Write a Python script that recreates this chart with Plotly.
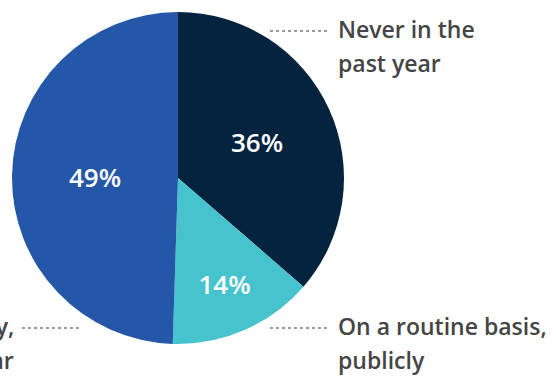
import plotly.graph_objects as go

W, H = 556, 377

categories = ["Never in the past year", "On a routine basis, publicly", "Occasionally, in the past year"]
values = [36, 14, 49]
colors = ["#03233F", "#47C3CD", "#2457A7"]

label_lines = [["Never in the", "past year"],
               ["On a routine basis,", "publicly"],
               ["Occasionally,", "in the past year"]]

def px(x):
    return x / W

def py(y):
    return 1 - y / H

fig = go.Figure(go.Pie(
    labels=categories,
    values=values,
    sort=False,
    direction="clockwise",
    rotation=0,
    marker=dict(colors=colors, line=dict(width=0)),
    texttemplate="%{value}%",
    textposition="inside",
    insidetextorientation="horizontal",
    textfont=dict(family="Open Sans", size=26, color="white", weight=600),
    hoverinfo="label+percent",
    domain=dict(x=[px(12), px(344)], y=[py(344), py(12)]),
    showlegend=False,
))

label_font = dict(family="Open Sans", size=23, color="#454545", weight=600)

# label placement: (anchor x, first-line y, xanchor, leader x0, leader x1)
placements = [
    (336, 29, "left", 270, 328),
    (336, 326, "left", 270, 328),
    (16, 326, "right", 22, 82),
]

annotations = []
shapes = []
for lines, (ax, ay, xa, lx0, lx1) in zip(label_lines, placements):
    for i, line in enumerate(lines):
        annotations.append(dict(
            text=line, x=px(ax), y=py(ay + i * 34), xref="paper", yref="paper",
            xanchor=xa, yanchor="middle", showarrow=False, font=label_font,
        ))
    shapes.append(dict(
        type="line", xref="paper", yref="paper",
        x0=px(lx0), x1=px(lx1), y0=py(ay + 2), y1=py(ay + 2),
        line=dict(color="#7a7a7a", width=1.6, dash="dot"),
    ))

fig.update_layout(
    width=W, height=H,
    margin=dict(l=0, r=0, t=0, b=0),
    paper_bgcolor="white",
    plot_bgcolor="white",
    annotations=annotations,
    shapes=shapes,
)

fig.write_html("out.html")
